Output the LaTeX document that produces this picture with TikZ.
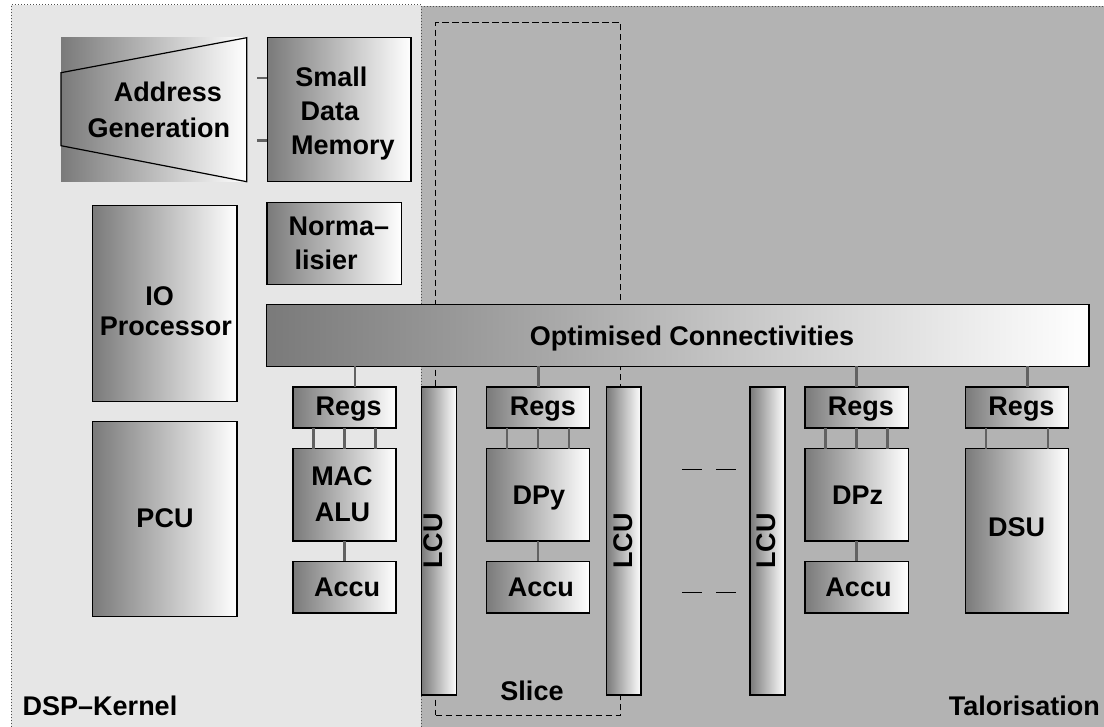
\documentclass[tikz,border=0pt]{standalone}
\usepackage{fontspec}
\setmainfont{Liberation Sans}
\definecolor{bgleft}{HTML}{E6E6E6}
\definecolor{bgright}{HTML}{B3B3B3}
\definecolor{shl}{HTML}{7A7A7A}
\definecolor{shr}{HTML}{FFFFFF}
\definecolor{conngray}{HTML}{626262}
\definecolor{dotgray}{HTML}{505050}
\tikzset{
  blk/.style={draw=black, line width=1.2pt, left color=shl, right color=shr, inner sep=0pt, outer sep=0pt, rectangle},
  shadeonly/.style={left color=shl, right color=shr, inner sep=0pt, outer sep=0pt, rectangle},
  lbl/.style={font=\bfseries\fontsize{27}{32}\selectfont, inner sep=0pt, anchor=base, text=black},
  conn/.style={draw=conngray, line width=2.4pt},
  regionborder/.style={draw=dotgray, line width=1pt, dash pattern=on 1pt off 2pt},
  slicebox/.style={draw=black, line width=1.2pt, dash pattern=on 6.5pt off 3.5pt, inner sep=0pt, outer sep=0pt, rectangle},
  gapdash/.style={draw=black, line width=1pt, dash pattern=on 20pt off 14pt},
}
\newcommand{\blkbox}[6][blk]{\node[#1, minimum width=#5, minimum height=#6] (#2) at (#3,#4) {};}
\begin{document}
\begin{tikzpicture}[x=1pt,y=-1pt]
\useasboundingbox (0,0) rectangle (1104,727);
% regions
\fill[bgleft] (11,5) rectangle (421,727);
\fill[bgright] (421,6.5) rectangle (1104,727);
\draw[regionborder] (11,727) -- (11,5) -- (421,5);
\draw[regionborder] (421,727) -- (421,6.5) -- (1104,6.5);
% slice frame
\node[slicebox, minimum width=185, minimum height=692.8] (slice) at (528.2,368.9) {};
% address generation and memory
\blkbox[shadeonly]{ag}{153.85}{109.7}{185.7}{144}
\draw[black, line width=1.2pt] ([yshift=37pt]ag.west) -- (ag.north east) -- (ag.south east) -- ([yshift=-36pt]ag.west) -- cycle;
\blkbox{sdm}{339.15}{109.7}{143.7}{144}
\draw[conn] ([yshift=31.4pt]sdm.west) -- ++(-10.6,0);
\draw[conn] ([yshift=-31pt]sdm.west) -- ++(-10.6,0);
\blkbox{norm}{334.15}{243.3}{134.3}{82}
\blkbox{io}{164.65}{303.7}{144.7}{196}
\blkbox{pcu}{164.65}{519.2}{144.7}{195}
% connectivity bar
\blkbox{opt}{677.85}{335.5}{822.3}{61.6}
% LCUs
\blkbox{lcua}{439}{541}{34.6}{308}
\blkbox{lcub}{623.85}{541}{34.3}{308}
\blkbox{lcuc}{767.5}{541}{35}{308}
\draw[gapdash] ([yshift=72pt]lcuc.west) ++(-68,0) -- ([yshift=72pt]lcuc.west);
\draw[gapdash] ([yshift=-51pt]lcuc.west) ++(-68,0) -- ([yshift=-51pt]lcuc.west);
% slice 1
\blkbox{rega}{344.5}{407.5}{103}{41}
\blkbox{mac}{344.5}{494.85}{103}{92.3}
\blkbox{acca}{344.5}{587.15}{103}{51.7}
% slice 2
\blkbox{regb}{537.8}{407.5}{103}{41}
\blkbox{dpy}{537.8}{494.85}{103}{92.3}
\blkbox{accb}{537.8}{587.15}{103}{51.7}
% slice 3
\blkbox{regc}{856.65}{407.5}{103.3}{41}
\blkbox{dpz}{856.65}{494.85}{103.3}{92.3}
\blkbox{accc}{856.65}{587.15}{103.3}{51.7}
% DSU
\blkbox{regd}{1016.8}{407.5}{103}{41}
\blkbox{dsu}{1016.8}{530.85}{103}{164.3}
% connectors bar -> regs
\draw[conn] ([xshift=10.2pt]rega.north) -- ([xshift=10.2pt]rega.north |- opt.south);
\draw[conn] ([xshift=0.5pt]regb.north) -- ([xshift=0.5pt]regb.north |- opt.south);
\draw[conn] (regc.north) -- (regc.north |- opt.south);
\draw[conn] ([xshift=10.5pt]regd.north) -- ([xshift=10.5pt]regd.north |- opt.south);
% regs -> units
\foreach \r/\u in {rega/mac, regb/dpy, regc/dpz} {
  \foreach \dx in {-31,0,31} {
    \draw[conn] ([xshift=\dx pt]\r.south) -- ([xshift=\dx pt]\r.south |- \u.north);
  }
}
\foreach \dx in {-31,31} {
  \draw[conn] ([xshift=\dx pt]regd.south) -- ([xshift=\dx pt]regd.south |- dsu.north);
}
\draw[conn] (mac.south) -- (acca.north);
\draw[conn] (dpy.south) -- (accb.north);
\draw[conn] (dpz.south) -- (accc.north);
% labels
\node[lbl] (tAddr) at (168,101.2) {Address};
\node[lbl] (tGen) at (158.8,137.3) {Generation};
\node[lbl] (tSmall) at (331.3,86.5) {Small};
\node[lbl] (tData) at (330,120.5) {Data};
\node[lbl] (tMem) at (343,154.5) {Memory};
\node[lbl] (tNorm) at (338.8,235.3) {Norma–};
\node[lbl] (tLis) at (326.2,269.8) {lisier};
\node[lbl] (tIO) at (159.5,305.3) {IO};
\node[lbl] (tProc) at (165.8,335.3) {Processor};
\node[lbl] (tPCU) at (165,527.8) {PCU};
\node[lbl] (tOpt) at (692,345.3) {Optimised Connectivities};
\node[lbl] (tRa) at (348.7,415.8) {Regs};
\node[lbl] (tRb) at (543,415.8) {Regs};
\node[lbl] (tRc) at (860.8,415.8) {Regs};
\node[lbl] (tRd) at (1021.5,415.8) {Regs};
\node[lbl] (tMAC) at (342,485.5) {MAC};
\node[lbl] (tALU) at (342.5,521.5) {ALU};
\node[lbl] (tDPy) at (539,504) {DPy};
\node[lbl] (tDPz) at (857.7,504) {DPz};
\node[lbl] (tAa) at (347.2,596.2) {Accu};
\node[lbl] (tAb) at (540.8,596.2) {Accu};
\node[lbl] (tAc) at (858.5,596.2) {Accu};
\node[lbl] (tDSU) at (1016.7,536.2) {DSU};
\node[lbl, anchor=center, rotate=90] (tLa) at (433.3,541) {LCU};
\node[lbl, anchor=center, rotate=90] (tLb) at (623.3,541) {LCU};
\node[lbl, anchor=center, rotate=90] (tLc) at (765.8,541) {LCU};
\node[lbl] (tSlice) at (532,700.5) {Slice};
\node[lbl] (tDSP) at (100,715.5) {DSP–Kernel};
\node[lbl] (tTal) at (1024.3,715.2) {Talorisation};
\end{tikzpicture}
\end{document}
